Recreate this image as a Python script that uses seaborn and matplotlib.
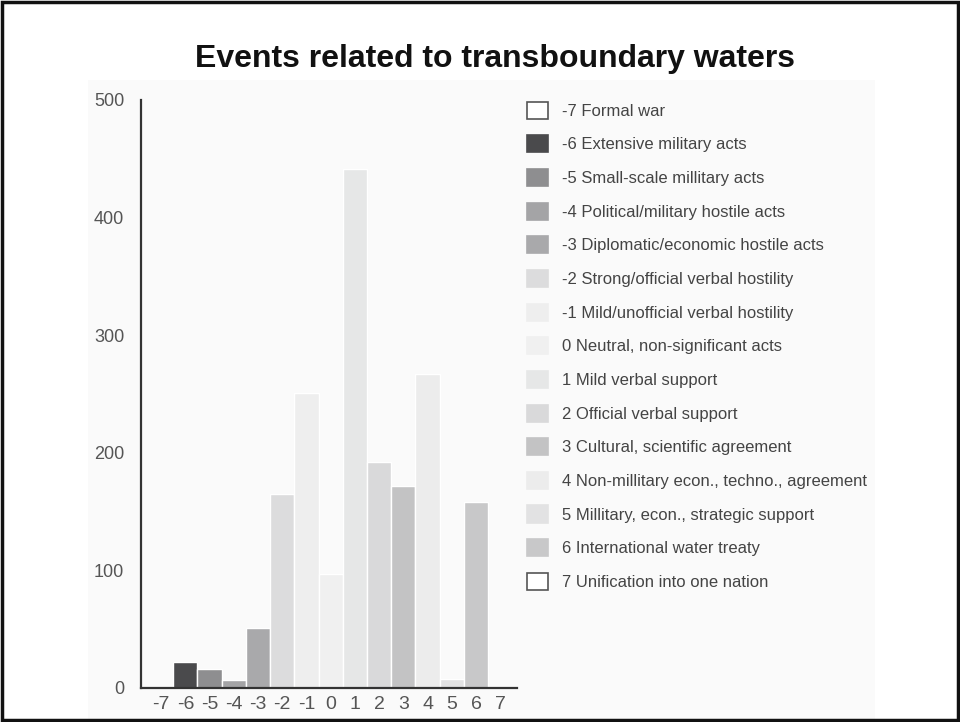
import matplotlib
matplotlib.use("Agg")
import matplotlib.pyplot as plt
import matplotlib.patches as mpatches
import seaborn as sns
import pandas as pd

# Event scale categories and counts
scale = [-7, -6, -5, -4, -3, -2, -1, 0, 1, 2, 3, 4, 5, 6, 7]
counts = [0, 22, 16, 7, 51, 165, 251, 97, 441, 192, 172, 267, 8, 158, 0]
labels = [
    "-7 Formal war",
    "-6 Extensive military acts",
    "-5 Small-scale millitary acts",
    "-4 Political/military hostile acts",
    "-3 Diplomatic/economic hostile acts",
    "-2 Strong/official verbal hostility",
    "-1 Mild/unofficial verbal hostility",
    "0 Neutral, non-significant acts",
    "1 Mild verbal support",
    "2 Official verbal support",
    "3 Cultural, scientific agreement",
    "4 Non-millitary econ., techno., agreement",
    "5 Millitary, econ., strategic support",
    "6 International water treaty",
    "7 Unification into one nation",
]
colors = ["#ffffff", "#4a4a4c", "#8e8e90", "#a4a4a6", "#a9a9ab", "#dcdcdd",
          "#eeeeee", "#f0f0f0", "#e6e7e7", "#d9d9da", "#c3c3c4", "#ececec",
          "#e2e2e3", "#c8c8c9", "#ffffff"]
yticks = [0, 100, 200, 300, 400, 500]

sns.set_style("white")
plt.rcParams["font.family"] = ["Liberation Sans", "DejaVu Sans"]

df = pd.DataFrame({"scale": [str(s) for s in scale], "count": counts})
palette = dict(zip(df["scale"], colors))

fig = plt.figure(figsize=(9.6, 7.22), dpi=100)
fig.patch.set_facecolor("white")

# light panel behind the chart + outer frame
fig.patches.append(mpatches.Rectangle((88 / 960, 0), (875 - 88) / 960, 1 - 80 / 722,
                                      transform=fig.transFigure, facecolor="#fafafa",
                                      edgecolor="none", zorder=-2))
fig.patches.append(mpatches.Rectangle((0.0025, 0.003), 0.995, 0.994,
                                      transform=fig.transFigure, facecolor="none",
                                      edgecolor="#111111", linewidth=2.5, zorder=5))

ax = fig.add_axes([141 / 960, 1 - 688 / 722, (517 - 141) / 960, (688 - 100) / 722])
ax.set_facecolor("none")
sns.barplot(data=df, x="scale", y="count", hue="scale", palette=palette,
            order=df["scale"], hue_order=df["scale"], width=1.0, dodge=False,
            legend=False, saturation=1, ax=ax)

ax.set_xlim(-0.83, 14.69)
ax.set_ylim(0, 500)
ax.set_yticks(yticks)
ax.set_xlabel("")
ax.set_ylabel("")
for side in ["top", "right"]:
    ax.spines[side].set_visible(False)
for side in ["left", "bottom"]:
    ax.spines[side].set_color("#333333")
    ax.spines[side].set_linewidth(1.6)
ax.tick_params(axis="y", length=6, width=1.4, color="#333333", pad=6,
               labelsize=13, labelcolor="#555555")
ax.tick_params(axis="x", length=0, pad=6, labelsize=14, labelcolor="#555555")

fig.text(495 / 960, 1 - 59 / 722, "Events related to transboundary waters",
         ha="center", va="center", fontsize=23, fontweight="bold",
         color="#111111")

handles = [mpatches.Patch(facecolor=c, edgecolor="#555555" if c == "#ffffff" else c,
                          linewidth=1.2) for c in colors]
fig.legend(handles, labels, loc="upper left", bbox_to_anchor=(527 / 960, 1 - 101.5 / 722),
           frameon=False, fontsize=12, handlelength=1.26, handleheight=1.2,
           handletextpad=0.84, labelspacing=0.99, borderpad=0, borderaxespad=0,
           labelcolor="#444444")

fig.savefig("out.png", dpi=100)
